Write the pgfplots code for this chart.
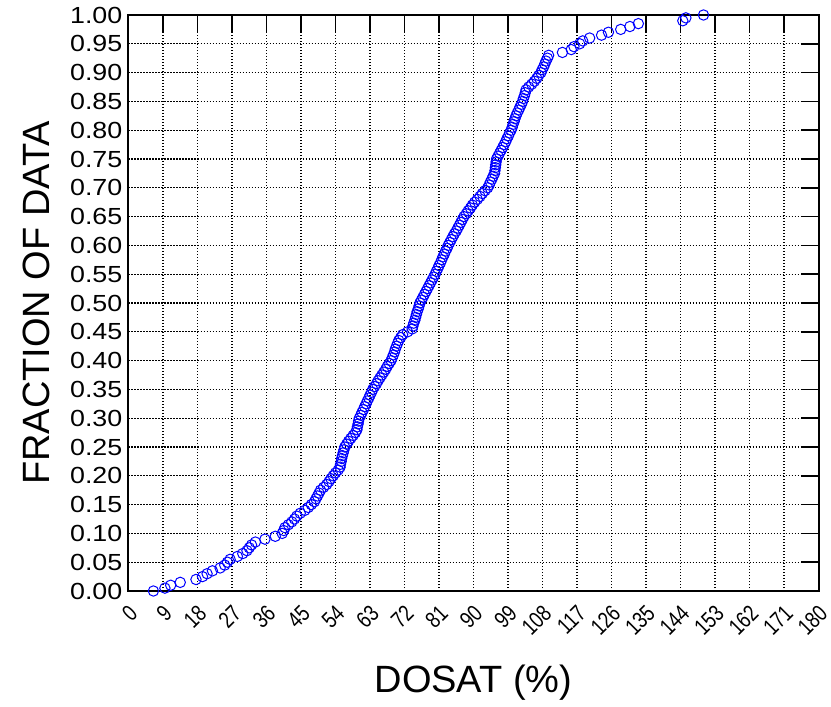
\documentclass[border=0pt]{standalone}
\usepackage{pgfplots}
\pgfplotsset{compat=1.18}
\usepackage{fontspec}
\setmainfont{Liberation Sans}
\newfontfamily\yfont[FakeStretch=1.15]{Liberation Sans}
\newfontfamily\xfont[FakeStretch=0.8]{Liberation Sans}
\usetikzlibrary{calc}
\begin{document}
\begin{tikzpicture}
\begin{axis}[
  name=ax,
  scale only axis,
  width=690pt, height=576pt,
  xmin=0, xmax=180, ymin=0, ymax=1,
  xtick={0,9,...,180},
  ytick={0,0.05,...,1.0001},
  xtick pos=right, xticklabel pos=left,
  ytick pos=right, yticklabel pos=left,
  tick align=inside,
  major tick length=18pt,
  major tick style={black, line width=1.6pt},
  axis line style={black, line width=2pt},
  grid=major,
  major grid style={black, line width=1.2pt, dash pattern=on 1.2pt off 1.8pt},
  /pgf/number format/assume math mode=true,
  tick label style={inner sep=0pt},
  yticklabel style={font=\yfont\fontsize{23.3}{23.3}\selectfont, /pgf/number format/fixed, /pgf/number format/fixed zerofill, /pgf/number format/precision=2, anchor=east, xshift=-6pt},
  xticklabel style={font=\xfont\fontsize{23}{23}\selectfont, xshift=5pt, yshift=-18.5pt, rotate=45, anchor=east},
  xlabel={DOSAT (\%)},
  ylabel={FRACTION OF DATA},
  label style={font=\fontsize{38}{38}\selectfont},
  xlabel style={at={(axis description cs:0.5,-0.1597)}, anchor=center},
  ylabel style={at={(axis description cs:-0.1333,0.5)}, anchor=center},
  clip=false,
]
\addplot[only marks, mark=o, mark size=5.2pt, color=blue, mark options={line width=1pt}] table {
x y
6.5 0.000
9.5 0.005
11.0 0.010
13.5 0.015
17.6 0.020
19.3 0.025
20.5 0.030
21.9 0.035
23.9 0.040
25.1 0.045
25.8 0.050
26.5 0.055
28.4 0.060
29.8 0.065
30.9 0.070
31.5 0.075
32.1 0.080
33.1 0.085
35.6 0.090
38.3 0.095
40.1 0.100
40.5 0.105
40.8 0.110
41.7 0.115
42.6 0.120
43.3 0.125
43.9 0.130
44.8 0.135
46.0 0.140
46.9 0.145
47.7 0.150
48.5 0.155
48.9 0.160
49.3 0.165
49.7 0.170
50.1 0.175
50.9 0.180
51.7 0.185
52.3 0.190
52.8 0.195
53.4 0.200
54.0 0.205
54.7 0.210
55.2 0.215
55.3 0.220
55.5 0.225
55.6 0.230
55.8 0.235
56.0 0.240
56.2 0.245
56.4 0.250
56.9 0.255
57.4 0.260
58.0 0.265
58.6 0.270
59.2 0.275
59.6 0.280
59.7 0.285
59.9 0.290
60.0 0.295
60.2 0.300
60.6 0.305
60.9 0.310
61.3 0.315
61.6 0.320
62.0 0.325
62.3 0.330
62.7 0.335
63.0 0.340
63.4 0.345
63.7 0.350
64.2 0.355
64.7 0.360
65.1 0.365
65.6 0.370
66.1 0.375
66.6 0.380
67.1 0.385
67.5 0.390
68.0 0.395
68.5 0.400
68.8 0.405
69.1 0.410
69.4 0.415
69.6 0.420
69.9 0.425
70.2 0.430
70.5 0.435
71.0 0.440
71.5 0.445
72.8 0.450
74.0 0.455
74.2 0.460
74.4 0.465
74.7 0.470
74.9 0.475
75.1 0.480
75.3 0.485
75.6 0.490
75.8 0.495
76.0 0.500
76.4 0.505
76.8 0.510
77.2 0.515
77.6 0.520
78.0 0.525
78.4 0.530
78.8 0.535
79.2 0.540
79.6 0.545
80.0 0.550
80.3 0.555
80.7 0.560
81.0 0.565
81.4 0.570
81.7 0.575
82.0 0.580
82.4 0.585
82.7 0.590
83.1 0.595
83.4 0.600
83.8 0.605
84.2 0.610
84.6 0.615
85.0 0.620
85.5 0.625
85.9 0.630
86.3 0.635
86.7 0.640
87.1 0.645
87.5 0.650
88.1 0.655
88.6 0.660
89.2 0.665
89.7 0.670
90.3 0.675
91.0 0.680
91.7 0.685
92.3 0.690
93.0 0.695
93.7 0.700
94.1 0.705
94.4 0.710
94.8 0.715
95.1 0.720
95.5 0.725
95.6 0.730
95.7 0.735
95.8 0.740
95.9 0.745
96.0 0.750
96.4 0.755
96.8 0.760
97.2 0.765
97.6 0.770
98.0 0.775
98.4 0.780
98.7 0.785
99.1 0.790
99.4 0.795
99.8 0.800
100.1 0.805
100.3 0.810
100.6 0.815
100.8 0.820
101.1 0.825
101.4 0.830
101.8 0.835
102.1 0.840
102.5 0.845
102.8 0.850
103.0 0.855
103.3 0.860
103.5 0.865
103.7 0.870
104.4 0.875
105.2 0.880
105.9 0.885
106.5 0.890
107.0 0.895
107.6 0.900
107.9 0.905
108.3 0.910
108.6 0.915
108.9 0.920
109.3 0.925
109.6 0.930
113.2 0.935
115.5 0.940
116.2 0.945
117.7 0.950
118.5 0.955
120.3 0.960
123.4 0.965
125.2 0.970
128.4 0.975
130.8 0.980
133.0 0.985
144.6 0.990
145.4 0.995
150.0 1.000
};
\end{axis}
\pgfresetboundingbox
\path ($(ax.south west)+(-128.5pt,-115pt)$) rectangle ($(ax.north east)+(12.5pt,15pt)$);
\end{tikzpicture}
\end{document}
